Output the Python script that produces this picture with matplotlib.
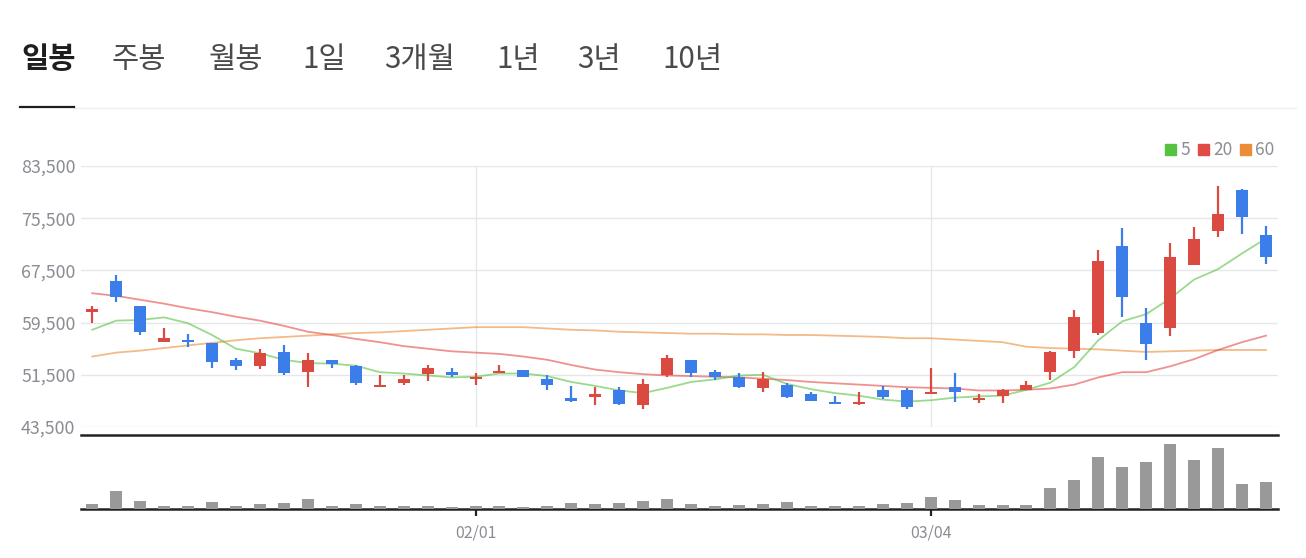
import matplotlib
matplotlib.use('Agg')
import matplotlib.pyplot as plt
from matplotlib.patches import Rectangle
from matplotlib.lines import Line2D

plt.rcParams['font.family'] = ['Noto Sans CJK KR', 'DejaVu Sans']

# ---------------- data ----------------
tabs = ['일봉', '주봉', '월봉', '1일', '3개월', '1년', '3년', '10년']

opens = [61200, 65900, 62100, 56600, 56700, 56400, 53800, 52800, 55000, 52000,
         53800, 52900, 49600, 50200, 51600, 52000, 50900, 51800, 52300, 50900,
         48000, 48100, 49100, 46800, 51500, 53700, 52000, 51200, 49500, 50000,
         48600, 47400, 47100, 49100, 49100, 48600, 49700, 47700, 48300, 49200,
         52000, 55100, 57900, 71300, 59500, 58600, 68300, 73600, 79800, 72900]
highs = [62100, 66800, 62100, 58600, 57800, 56400, 54100, 55500, 56100, 54900,
         53800, 53000, 51500, 51500, 53000, 52600, 51700, 53000, 52300, 51400,
         49800, 49700, 49700, 50900, 54600, 53700, 52300, 51800, 52000, 50300,
         48800, 48300, 48800, 49800, 49500, 52600, 51800, 48500, 49400, 50600,
         55200, 61500, 70600, 74000, 61800, 71700, 74200, 80400, 80000, 74300]
lows = [59400, 62700, 57600, 56600, 55700, 52600, 52300, 52400, 51400, 49700,
        52600, 50000, 49600, 49900, 50600, 51100, 50000, 51800, 51100, 49100,
        47400, 46900, 46800, 46300, 51200, 51200, 50700, 49500, 48900, 48000,
        47500, 47100, 46900, 47800, 46300, 48600, 47400, 47200, 47200, 49200,
        50700, 54000, 57600, 60400, 53800, 57500, 68300, 72600, 73100, 68500]
closes = [61600, 63500, 58000, 57200, 56500, 53400, 52800, 54900, 51700, 53800,
          53100, 50300, 49900, 50900, 52600, 51500, 51200, 52100, 51200, 50000,
          47500, 48500, 47100, 50100, 54000, 51800, 51200, 49700, 50900, 48100,
          47500, 47100, 47400, 48100, 46600, 48900, 48900, 48000, 49200, 50000,
          55000, 60400, 69000, 63500, 56200, 69600, 72300, 76200, 75700, 69600]

ma5 = [58400, 59800, 59900, 60300, 59400, 57600, 55500, 54800, 53800, 53300,
       53200, 52900, 51900, 51700, 51400, 51100, 51200, 51700, 51700, 51300,
       50400, 49800, 49100, 48700, 49500, 50400, 50800, 51400, 51500, 50100,
       49300, 48700, 48300, 47700, 47400, 47600, 48000, 48200, 48300, 49200,
       50300, 52700, 56800, 59700, 60800, 63200, 66100, 67700, 70100, 72400]
ma20 = [64000, 63600, 63000, 62400, 61700, 61100, 60400, 59800, 59000, 58100,
        57600, 57000, 56500, 55900, 55500, 55100, 54900, 54700, 54300, 53800,
        53000, 52300, 51900, 51600, 51400, 51300, 51200, 51100, 50900, 50700,
        50400, 50200, 50000, 49800, 49600, 49500, 49400, 49100, 49100, 49200,
        49400, 50000, 51100, 51900, 51900, 52800, 53900, 55300, 56500, 57500]
ma60 = [54300, 54900, 55200, 55600, 56000, 56400, 56800, 57100, 57300, 57500,
        57700, 57900, 58000, 58200, 58400, 58600, 58800, 58800, 58800, 58600,
        58400, 58300, 58100, 58000, 57900, 57800, 57800, 57700, 57700, 57600,
        57600, 57500, 57400, 57300, 57100, 57100, 56900, 56700, 56500, 55800,
        55600, 55500, 55400, 55200, 55000, 55100, 55200, 55300, 55300, 55300]

volumes = [16, 55, 25, 10, 10, 22, 10, 16, 19, 31, 10, 16, 10, 10, 10, 7, 10, 10,
           7, 10, 19, 16, 19, 25, 31, 16, 10, 13, 16, 22, 10, 10, 10, 16, 19, 37,
           28, 13, 13, 13, 64, 88, 157, 127, 142, 196, 148, 184, 76, 82]

price_ticks = [43500, 51500, 59500, 67500, 75500, 83500]
date_tick_idx = [16, 35]
date_tick_labels = ['02/01', '03/04']
ma_labels = ['5', '20', '60']

# ---------------- style ----------------
W, H = 1306, 558
UP = '#db4a41'
DOWN = '#3b7de9'
MA_COLORS = ['#57c23f', '#e24a46', '#ec8c38']
GRID = '#e6e7ea'
TXT = '#8a8d94'

fig = plt.figure(figsize=(W / 100, H / 100), dpi=100)
fig.patch.set_facecolor('white')


def fx(px):
    return px / W


def fy(py):
    return 1 - py / H


# tabs
tab_x = [21, 112, 209, 302, 384, 496, 577, 662]
for i, (t, x) in enumerate(zip(tabs, tab_x)):
    fig.text(fx(x), fy(59), t, fontsize=21.3,
             fontweight='bold' if i == 0 else 'normal',
             color='#1e1e1e' if i == 0 else '#4a4a4a',
             ha='left', va='center')
fig.add_artist(Line2D([fx(74), fx(1296)], [fy(107.5), fy(107.5)],
                      color='#eeeeee', lw=1.0))
fig.add_artist(Line2D([fx(20), fx(74)], [fy(107), fy(107)],
                      color='#1e1e1e', lw=1.6))

# price axes
L, R = 81, 1278
ax = fig.add_axes([fx(L), fy(427), fx(R - L), (427 - 166) / H])
n = len(opens)
xs = list(range(n))
ax.set_xlim(-0.47, 49.5)
ax.set_ylim(43500, 83500)
for s in ax.spines.values():
    s.set_visible(False)
ax.set_yticks(price_ticks)
ax.set_yticklabels([f'{v:,}' for v in price_ticks])
ax.tick_params(axis='y', length=0, pad=4, labelsize=12.8, labelcolor=TXT)
ax.set_xticks(date_tick_idx)
ax.tick_params(axis='x', length=0, labelbottom=False)
ax.grid(True, color=GRID, lw=1.0)
ax.set_axisbelow(True)

# moving averages
for vals, c in zip([ma60, ma20, ma5], [MA_COLORS[2], MA_COLORS[1], MA_COLORS[0]]):
    ax.plot(xs, vals, color=c, lw=1.3, alpha=0.6, zorder=2)

# candles
for i in xs:
    o, h, l, c = opens[i], highs[i], lows[i], closes[i]
    col = UP if c >= o else DOWN
    ax.vlines(i, l, h, color=col, lw=1.6, zorder=3)
    lo = min(o, c)
    ht = max(abs(c - o), 300)
    ax.add_patch(Rectangle((i - 0.25, lo), 0.5, ht, color=col, lw=0, zorder=4))

# legend
lx = [1165, 1198, 1240]
tx = [1180, 1213, 1255]
for c, lab, x0, x1 in zip(MA_COLORS, ma_labels, lx, tx):
    fig.add_artist(Rectangle((fx(x0), fy(155)), fx(11), 11 / H, color=c,
                             transform=fig.transFigure))
    fig.text(fx(x1), fy(149.5), lab, fontsize=12.5, color=TXT, ha='left', va='center')

# volume axes
vax = fig.add_axes([fx(L), fy(509), fx(R - L), (509 - 435) / H])
vax.set_xlim(-0.47, 49.5)
vax.set_ylim(0, 223)
vax.bar(xs, volumes, width=0.5, color='#999999', zorder=3)
for k in ['left', 'right']:
    vax.spines[k].set_visible(False)
for k in ['top', 'bottom']:
    vax.spines[k].set_color('#222222')
    vax.spines[k].set_linewidth(1.8)
vax.set_yticks([])
vax.set_xticks(date_tick_idx)
vax.set_xticklabels(date_tick_labels)
vax.tick_params(axis='x', length=5, width=1.6, color='#222222', pad=6,
                labelsize=11.5, labelcolor=TXT)

fig.savefig('out.png', dpi=100, facecolor='white')
